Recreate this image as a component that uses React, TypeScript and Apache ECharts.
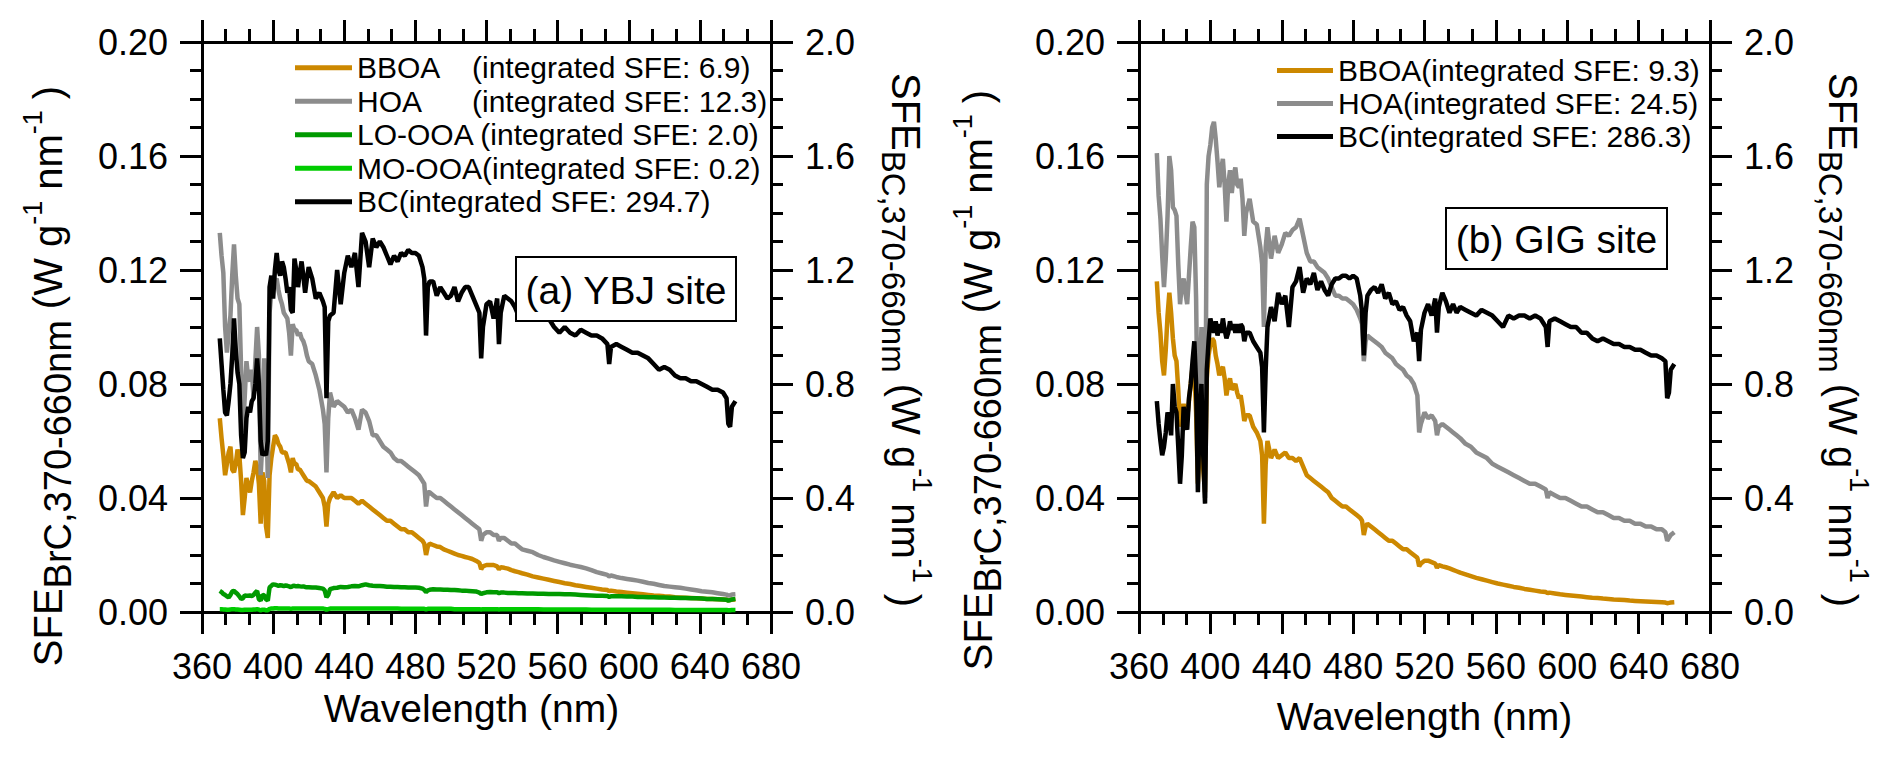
import React, { useEffect, useRef } from "react";
import * as echarts from "echarts";

// ---------- data ----------
const wavelength = [
  370, 371, 372, 373, 374, 375, 376, 377, 378, 379, 380, 381, 382, 383, 384, 385, 386, 387, 388, 389,
  390, 391, 392, 393, 394, 395, 396, 397, 398, 399, 400, 401, 402, 403, 404, 405, 406, 407, 408, 409,
  410, 411, 412, 413, 414, 415, 416, 417, 418, 419, 420,
  422, 424, 426, 428, 429, 430, 431, 432,
  434, 436, 438, 440, 442, 444, 446, 448, 450, 452, 454, 456, 458, 460, 462, 464, 466, 468, 470, 472, 474, 476, 478, 480, 482, 484,
  485, 486, 487, 488,
  490, 492, 494, 496, 498, 500, 502, 504, 506, 508, 510, 512, 514, 516,
  517, 518,
  520, 522, 524, 526,
  527, 528,
  530, 532, 534, 536, 538, 540,
  543, 546, 549, 552, 555, 558, 561, 564, 567, 570, 573, 576, 579, 582, 585, 588,
  589, 590,
  593, 596, 599, 602, 605, 608, 611, 614, 617, 620, 623, 626, 629, 632, 635, 638, 641, 644, 647, 650, 653,
  655, 656, 657, 658, 660,
];

// (a) YBJ site, left axis
const ybjBBOA = [
  0.068, 0.061, 0.055, 0.048, 0.052, 0.056, 0.058, 0.050, 0.049, 0.052,
  0.057, 0.055, 0.046, 0.034, 0.040, 0.047, 0.044, 0.042, 0.046, 0.049,
  0.053, 0.051, 0.045, 0.031, 0.049, 0.046, 0.030, 0.026, 0.048, 0.054,
  0.058, 0.062, 0.061, 0.059, 0.058, 0.056, 0.056, 0.056, 0.054, 0.052,
  0.049, 0.054, 0.052, 0.052, 0.050, 0.050, 0.049, 0.048, 0.047, 0.046, 0.046,
  0.045, 0.044, 0.042, 0.040, 0.037, 0.030, 0.038, 0.040,
  0.042, 0.040, 0.041, 0.040, 0.040, 0.040, 0.039, 0.038, 0.039, 0.038, 0.037, 0.036, 0.035, 0.034, 0.033, 0.032, 0.032, 0.031, 0.030, 0.029, 0.029, 0.028, 0.028, 0.027, 0.026, 0.025,
  0.024, 0.020, 0.023, 0.024,
  0.0235, 0.023, 0.0228, 0.022, 0.0215, 0.021, 0.0205, 0.020, 0.0197, 0.0193, 0.019, 0.0186, 0.018, 0.0172,
  0.015, 0.016,
  0.0165, 0.0165, 0.0165, 0.016,
  0.015, 0.0157,
  0.0155, 0.0152, 0.0147, 0.0143, 0.014, 0.0136,
  0.0131, 0.0125, 0.0121, 0.0117, 0.0113, 0.0109, 0.0105, 0.0101, 0.0098, 0.0094, 0.0091, 0.0088, 0.0085, 0.0082, 0.0079, 0.0077,
  0.0073, 0.0075,
  0.0072, 0.007, 0.0068, 0.0066, 0.0064, 0.0062, 0.006, 0.0058, 0.0057, 0.0055, 0.0054, 0.0052, 0.0051, 0.005, 0.0049, 0.0048, 0.0047, 0.0046, 0.0046, 0.0045, 0.0044,
  0.0043, 0.0041, 0.0042, 0.0043, 0.0044,
];

const ybjHOA = [
  0.133, 0.125, 0.119, 0.100, 0.091, 0.098, 0.104, 0.118, 0.129, 0.118,
  0.110, 0.108, 0.085, 0.063, 0.075, 0.088, 0.082, 0.081, 0.085, 0.075,
  0.088, 0.100, 0.090, 0.048, 0.060, 0.089, 0.075, 0.047, 0.105, 0.112,
  0.114, 0.116, 0.117, 0.113, 0.110, 0.108, 0.105, 0.104, 0.103, 0.098,
  0.090, 0.101, 0.099, 0.099, 0.097, 0.098, 0.096, 0.095, 0.093, 0.090, 0.088,
  0.087, 0.083, 0.078, 0.071, 0.066, 0.049, 0.068, 0.077,
  0.072, 0.074, 0.073, 0.072, 0.070, 0.071, 0.068, 0.064, 0.071, 0.070, 0.067, 0.062, 0.062, 0.060, 0.058, 0.057, 0.056, 0.054, 0.053, 0.053, 0.052, 0.051, 0.050, 0.049, 0.048, 0.046,
  0.045, 0.037, 0.042, 0.042,
  0.041, 0.040, 0.040, 0.039, 0.038, 0.037, 0.036, 0.035, 0.034, 0.033, 0.032, 0.031, 0.030, 0.029,
  0.025, 0.027,
  0.028, 0.028, 0.027, 0.027,
  0.025, 0.026,
  0.026, 0.025, 0.024, 0.024, 0.023, 0.022,
  0.0215, 0.021, 0.020, 0.0193, 0.0187, 0.0181, 0.0176, 0.0171, 0.0166, 0.0162, 0.0158, 0.0153, 0.0147, 0.014, 0.0135, 0.013,
  0.0125, 0.0128,
  0.0123, 0.0119, 0.0116, 0.0113, 0.011, 0.0106, 0.0102, 0.0099, 0.0095, 0.0091, 0.0089, 0.0087, 0.0085, 0.0082, 0.0079, 0.0076, 0.0073, 0.0071, 0.0069, 0.0066, 0.0063,
  0.0061, 0.0058, 0.0059, 0.0061, 0.0062,
];

const ybjLOOOA = [
  0.0074, 0.0070, 0.0063, 0.0060, 0.0055, 0.0051, 0.0060, 0.0072, 0.0074, 0.0068,
  0.0063, 0.0055, 0.0046, 0.0048, 0.0058, 0.0057, 0.0057, 0.0058, 0.0056, 0.0060,
  0.0068, 0.0074, 0.0045, 0.0040, 0.0060, 0.0058, 0.0045, 0.0040, 0.0086, 0.0092,
  0.0097, 0.0096, 0.0094, 0.0092, 0.0094, 0.0093, 0.0091, 0.0093, 0.0092, 0.0090,
  0.0087, 0.0091, 0.0092, 0.0090, 0.0091, 0.0090, 0.0089, 0.0090, 0.0088, 0.0087, 0.0087,
  0.0086, 0.0086, 0.0084, 0.0082, 0.0076, 0.0052, 0.0060, 0.0080,
  0.0084, 0.0085, 0.0088, 0.0087, 0.0088, 0.0090, 0.0091, 0.0090, 0.0094, 0.0097, 0.0094, 0.0092, 0.0091, 0.0091, 0.0090, 0.0089, 0.0089, 0.0088, 0.0088, 0.0087, 0.0087, 0.0086, 0.0086, 0.0086, 0.0085, 0.0082,
  0.0078, 0.0070, 0.0076, 0.0078,
  0.0080, 0.0079, 0.0079, 0.0078, 0.0078, 0.0077, 0.0077, 0.0076, 0.0075, 0.0075, 0.0074, 0.0073, 0.0072, 0.0068,
  0.0063, 0.0066,
  0.0069, 0.0070, 0.0069, 0.0069,
  0.0066, 0.0068,
  0.0068, 0.0067, 0.0067, 0.0067, 0.0066, 0.0066,
  0.0065, 0.0065, 0.0064, 0.0064, 0.0063, 0.0063, 0.0063, 0.0062, 0.0062, 0.0061, 0.0060, 0.0059, 0.0058, 0.0057, 0.0057, 0.0056,
  0.0053, 0.0055,
  0.0055, 0.0055, 0.0054, 0.0054, 0.0053, 0.0053, 0.0052, 0.0052, 0.0051, 0.0051, 0.0050, 0.0050, 0.0049, 0.0049, 0.0048, 0.0048, 0.0047, 0.0046, 0.0046, 0.0045, 0.0044,
  0.0043, 0.0040, 0.0042, 0.0044, 0.0046,
];

const ybjMOOOA = [
  0.0010, 0.0010, 0.0009, 0.0009, 0.0008, 0.0008, 0.0009, 0.0010, 0.0010, 0.0009,
  0.0009, 0.0008, 0.0007, 0.0007, 0.0008, 0.0008, 0.0008, 0.0008, 0.0008, 0.0009,
  0.0009, 0.0010, 0.0008, 0.0006, 0.0008, 0.0008, 0.0006, 0.0006, 0.0011, 0.0012,
  0.0012, 0.0013, 0.0013, 0.0012, 0.0012, 0.0012, 0.0012, 0.0012, 0.0012, 0.0012,
  0.0011, 0.0012, 0.0012, 0.0012, 0.0012, 0.0012, 0.0012, 0.0012, 0.0012, 0.0012, 0.0012,
  0.0012, 0.0012, 0.0012, 0.0012, 0.0011, 0.0008, 0.0010, 0.0012,
  0.0012, 0.0012, 0.0012, 0.0012, 0.0012, 0.0012, 0.0012, 0.0012, 0.0012, 0.0012, 0.0012, 0.0012, 0.0012, 0.0012, 0.0012, 0.0012, 0.0012, 0.0012, 0.0012, 0.0011, 0.0011, 0.0011, 0.0011, 0.0011, 0.0011, 0.0011,
  0.0011, 0.0009, 0.0011, 0.0011,
  0.0011, 0.0011, 0.0011, 0.0011, 0.0011, 0.0011, 0.0010, 0.0010, 0.0010, 0.0010, 0.0010, 0.0010, 0.0010, 0.0010,
  0.0009, 0.0010,
  0.0010, 0.0010, 0.0010, 0.0010,
  0.0009, 0.0010,
  0.0010, 0.0010, 0.0010, 0.0010, 0.0010, 0.0010,
  0.0010, 0.0010, 0.0010, 0.0009, 0.0009, 0.0009, 0.0009, 0.0009, 0.0009, 0.0009, 0.0009, 0.0009, 0.0008, 0.0008, 0.0008, 0.0008,
  0.0008, 0.0008,
  0.0008, 0.0008, 0.0008, 0.0008, 0.0008, 0.0008, 0.0008, 0.0008, 0.0008, 0.0008, 0.0008, 0.0007, 0.0007, 0.0007, 0.0007, 0.0007, 0.0007, 0.0007, 0.0007, 0.0007, 0.0007,
  0.0007, 0.0006, 0.0006, 0.0007, 0.0007,
];

// (a) YBJ site, right axis
const ybjBC = [
  0.96, 0.87, 0.78, 0.70, 0.69, 0.74, 0.80, 0.90, 1.03, 0.92,
  0.84, 0.80, 0.62, 0.54, 0.56, 0.68, 0.72, 0.70, 0.74, 0.75,
  0.80, 0.89, 0.80, 0.60, 0.55, 0.56, 0.55, 0.60, 1.14, 1.18,
  1.10, 1.20, 1.26, 1.20, 1.18, 1.23, 1.21, 1.17, 1.12, 1.14,
  1.06, 1.05, 1.24, 1.20, 1.14, 1.19, 1.23, 1.18, 1.12, 1.17, 1.21,
  1.17, 1.10, 1.12, 1.09, 1.07, 0.75, 1.02, 1.04,
  1.05, 1.20, 1.08, 1.19, 1.25, 1.21, 1.26, 1.14, 1.33, 1.30, 1.21, 1.31, 1.28, 1.30, 1.28, 1.25, 1.22, 1.25, 1.23, 1.26, 1.25, 1.27, 1.26, 1.26, 1.25, 1.21,
  1.17, 0.97, 1.14, 1.16,
  1.16, 1.11, 1.14, 1.12, 1.10, 1.11, 1.14, 1.09, 1.12, 1.14, 1.14, 1.11, 1.08, 1.05,
  0.89, 1.00,
  1.08, 1.09, 1.03, 1.10,
  0.94, 1.05,
  1.11, 1.10, 1.09, 1.07, 1.04, 1.04,
  1.03, 1.04, 1.03, 1.03, 1.03, 1.00, 0.98, 1.00, 0.98, 0.97, 0.99, 0.98, 0.97, 0.97, 0.96, 0.94,
  0.87, 0.93,
  0.94, 0.93, 0.92, 0.91, 0.91, 0.90, 0.89, 0.87, 0.85, 0.86, 0.85, 0.83, 0.82, 0.82, 0.81, 0.81, 0.80, 0.79, 0.78, 0.78, 0.77,
  0.75, 0.66, 0.65, 0.72, 0.74,
];

// (b) GIG site, left axis
const gigBBOA = [
  0.116, 0.105, 0.098, 0.088, 0.083, 0.092, 0.104, 0.112, 0.105, 0.096,
  0.090, 0.088, 0.078, 0.065, 0.070, 0.073, 0.070, 0.068, 0.074, 0.080,
  0.086, 0.085, 0.070, 0.045, 0.058, 0.066, 0.050, 0.042, 0.082, 0.090,
  0.094, 0.096, 0.095, 0.090, 0.087, 0.083, 0.085, 0.086, 0.082, 0.076,
  0.080, 0.082, 0.078, 0.079, 0.080, 0.077, 0.075, 0.076, 0.072, 0.067, 0.069,
  0.069, 0.065, 0.063, 0.060, 0.055, 0.031, 0.052, 0.060,
  0.054, 0.057, 0.054, 0.055, 0.056, 0.054, 0.054, 0.053, 0.054, 0.051, 0.048, 0.047, 0.046, 0.045, 0.044, 0.043, 0.042, 0.040, 0.039, 0.038, 0.037, 0.037, 0.036, 0.035, 0.034, 0.033,
  0.032, 0.027, 0.030, 0.031,
  0.030, 0.029, 0.028, 0.027, 0.026, 0.025, 0.025, 0.024, 0.023, 0.022, 0.022, 0.021, 0.020, 0.019,
  0.016, 0.017,
  0.018, 0.018, 0.0175, 0.017,
  0.0155, 0.0165,
  0.016, 0.0157, 0.0153, 0.0148, 0.0143, 0.0138,
  0.0132, 0.0126, 0.012, 0.0115, 0.011, 0.0105, 0.01, 0.0096, 0.0092, 0.0088, 0.0085, 0.0081, 0.0078, 0.0075, 0.0072, 0.007,
  0.0066, 0.0068,
  0.0065, 0.0062, 0.006, 0.0058, 0.0056, 0.0054, 0.0052, 0.005, 0.0049, 0.0047, 0.0046, 0.0044, 0.0043, 0.0042, 0.004, 0.0039, 0.0038, 0.0037, 0.0036, 0.0035, 0.0034,
  0.0033, 0.0031, 0.0032, 0.0033, 0.0034,
];

const gigHOA = [
  0.161, 0.146, 0.138, 0.125, 0.114, 0.124, 0.139, 0.160, 0.155, 0.142,
  0.141, 0.139, 0.122, 0.108, 0.115, 0.117, 0.112, 0.108, 0.118, 0.128,
  0.137, 0.135, 0.110, 0.060, 0.080, 0.100, 0.070, 0.040, 0.150, 0.160,
  0.164, 0.170, 0.172, 0.166, 0.158, 0.149, 0.155, 0.159, 0.150, 0.137,
  0.150, 0.155, 0.147, 0.153, 0.156, 0.150, 0.149, 0.152, 0.145, 0.132, 0.140,
  0.145, 0.137, 0.136, 0.128, 0.122, 0.100, 0.128, 0.135,
  0.124, 0.132, 0.126, 0.129, 0.133, 0.132, 0.134, 0.135, 0.138, 0.132, 0.126, 0.123, 0.123, 0.121, 0.120, 0.119, 0.117, 0.114, 0.111, 0.111, 0.110, 0.110, 0.109, 0.108, 0.106, 0.103,
  0.101, 0.088, 0.095, 0.097,
  0.096, 0.095, 0.094, 0.093, 0.091, 0.090, 0.089, 0.087, 0.086, 0.085, 0.083, 0.082, 0.080, 0.076,
  0.063, 0.066,
  0.070, 0.068, 0.069, 0.067,
  0.062, 0.065,
  0.066, 0.065, 0.064, 0.063, 0.062, 0.061,
  0.059, 0.058, 0.056, 0.055, 0.054, 0.052, 0.051, 0.050, 0.049, 0.048, 0.047, 0.046, 0.045, 0.045, 0.044, 0.043,
  0.040, 0.042,
  0.041, 0.040, 0.040, 0.039, 0.038, 0.037, 0.037, 0.036, 0.035, 0.035, 0.034, 0.033, 0.033, 0.032, 0.032, 0.031, 0.031, 0.030, 0.030, 0.029, 0.029,
  0.028, 0.025, 0.026, 0.027, 0.028,
];

// (b) GIG site, right axis
const gigBC = [
  0.74, 0.66, 0.60, 0.55, 0.58, 0.63, 0.70, 0.68, 0.62, 0.80,
  0.72, 0.70, 0.58, 0.45, 0.55, 0.72, 0.66, 0.64, 0.75, 0.80,
  0.88, 0.95, 0.80, 0.42, 0.70, 0.80, 0.55, 0.38, 0.85, 0.95,
  1.03, 1.00, 0.98, 1.02, 0.97, 1.01, 0.98, 1.03, 0.99, 0.96,
  0.98, 1.02, 0.99, 1.01, 0.98, 1.01, 0.98, 1.01, 1.00, 0.95, 0.98,
  0.98, 0.95, 0.93, 0.91, 0.86, 0.63, 0.85, 1.00,
  1.07, 1.02, 1.12, 1.08, 1.11, 1.00, 1.14, 1.16, 1.21, 1.12, 1.17, 1.15, 1.19, 1.13, 1.16, 1.13, 1.11, 1.15, 1.17, 1.17, 1.18, 1.18, 1.17, 1.18, 1.17, 1.11,
  1.05, 0.90, 1.05, 1.11,
  1.13, 1.14, 1.12, 1.15, 1.10, 1.12, 1.08, 1.09, 1.06, 1.07, 1.04, 1.02, 0.95, 0.98,
  0.88, 0.99,
  1.05, 1.08, 1.04, 1.10,
  0.98, 1.07,
  1.12, 1.09, 1.05, 1.08, 1.05, 1.07,
  1.06, 1.05, 1.04, 1.06, 1.05, 1.04, 1.02, 1.00, 1.04, 1.03, 1.04, 1.04, 1.03, 1.04, 1.03, 1.00,
  0.93, 1.02,
  1.03, 1.02, 1.01, 1.00, 1.00, 0.98, 0.98, 0.96, 0.95, 0.96, 0.95, 0.94, 0.94, 0.93, 0.93, 0.92, 0.92, 0.91, 0.90, 0.90, 0.89,
  0.88, 0.75, 0.77, 0.85, 0.87,
];

const leftTicks = [0, 0.2, 0.04];
const rightTicks = [0, 2.0, 0.4];
const xTicks = [360, 680, 40];

const legendA: Record<string, string> = {
  "YBJ BBOA": "{w|BBOA}(integrated SFE: 6.9)",
  "YBJ HOA": "{w|HOA}(integrated SFE: 12.3)",
  "YBJ LO-OOA": "LO-OOA (integrated SFE: 2.0)",
  "YBJ MO-OOA": "MO-OOA(integrated SFE: 0.2)",
  "YBJ BC": "BC(integrated SFE: 294.7)",
};
const legendB: Record<string, string> = {
  "GIG BBOA": "BBOA(integrated SFE: 9.3)",
  "GIG HOA": "HOA(integrated SFE: 24.5)",
  "GIG BC": "BC(integrated SFE: 286.3)",
};

// ---------- styling ----------
const FONT = "'Liberation Sans', Arial, Helvetica, sans-serif";
const BLACK = "#000000";
const C_BBOA = "#CC8800";
const C_HOA = "#8C8C8C";
const C_LO = "#009A00";
const C_MO = "#00CC00";
const C_BC = "#000000";

const axisLine = { show: true, onZero: false, lineStyle: { color: BLACK, width: 3 } };
const majorTick = { show: true, inside: false, length: 22, lineStyle: { color: BLACK, width: 3 } };

function xAxisPair(gridIndex: number, nameGap: number, namePadRight: number) {
  const base = {
    gridIndex,
    type: "value" as const,
    min: xTicks[0],
    max: xTicks[1],
    interval: xTicks[2],
    axisLine,
    axisTick: majorTick,
    minorTick: { show: true, splitNumber: 3, length: 13, lineStyle: { color: BLACK, width: 3 } },
    splitLine: { show: false },
    minorSplitLine: { show: false },
  };
  return [
    {
      ...base,
      position: "bottom",
      axisLabel: { show: true, fontSize: 36, color: BLACK, fontFamily: FONT, margin: 36 },
      name: "Wavelength (nm)",
      nameLocation: "middle",
      nameGap,
      nameTextStyle: {
        fontSize: 39,
        color: BLACK,
        fontFamily: FONT,
        verticalAlign: "middle",
        padding: [0, namePadRight, 0, 0],
      },
    },
    { ...base, position: "top", axisLabel: { show: false } },
  ];
}

function yAxisPair(gridIndex: number) {
  const common = {
    gridIndex,
    type: "value" as const,
    axisLine,
    axisTick: majorTick,
    minorTick: { show: true, splitNumber: 4, length: 12, lineStyle: { color: BLACK, width: 3 } },
    splitLine: { show: false },
    minorSplitLine: { show: false },
  };
  return [
    {
      ...common,
      position: "left",
      min: leftTicks[0],
      max: leftTicks[1],
      interval: leftTicks[2],
      axisLabel: {
        fontSize: 36,
        color: BLACK,
        fontFamily: FONT,
        margin: 34,
        formatter: (v: number) => v.toFixed(2),
      },
    },
    {
      ...common,
      position: "right",
      min: rightTicks[0],
      max: rightTicks[1],
      interval: rightTicks[2],
      axisLabel: {
        fontSize: 36,
        color: BLACK,
        fontFamily: FONT,
        margin: 34,
        formatter: (v: number) => v.toFixed(1),
      },
    },
  ];
}

function lineSeries(name: string, values: number[], color: string, xi: number, yi: number, z: number) {
  return {
    type: "line",
    name,
    data: wavelength.map((w, i) => [w, values[i]]),
    xAxisIndex: xi,
    yAxisIndex: yi,
    showSymbol: false,
    symbol: "none",
    lineStyle: { width: 4.5, color },
    itemStyle: { color },
    emphasis: { disabled: true },
    z,
  };
}

const TITLE_M = 40;
const TITLE_P = 27;
function titleRich(subSize: number) {
  return {
    m: { fontSize: TITLE_M, fontFamily: FONT, lineHeight: 58, fill: BLACK },
    ml: { fontSize: TITLE_M, fontFamily: FONT, lineHeight: 58, fill: BLACK, padding: [0, 0, 0, 11] },
    s: { fontSize: subSize, fontFamily: FONT, verticalAlign: "bottom", fill: BLACK },
    p: { fontSize: TITLE_P, fontFamily: FONT, verticalAlign: "top", fill: BLACK },
  };
}
function axisTitle(x: number, y: number, rotation: number, sub: string, subSize: number) {
  return {
    type: "text",
    x,
    y,
    rotation,
    silent: true,
    style: {
      text: `{m|SFE}{s|${sub}}{ml|(W g}{p|-1}{ml|nm}{p|-1}{ml|)}`,
      rich: titleRich(subSize),
      fontSize: TITLE_M,
      fontFamily: FONT,
      fill: BLACK,
      align: "center",
      verticalAlign: "middle",
    },
  };
}
function panelLabel(x: number, y: number, w: number, h: number, text: string) {
  return [
    {
      type: "rect",
      shape: { x, y, width: w, height: h },
      style: { fill: "#ffffff", stroke: BLACK, lineWidth: 2 },
      z: 20,
      silent: true,
    },
    {
      type: "text",
      x: x + w / 2,
      y: y + h / 2 + 1,
      z: 21,
      silent: true,
      style: {
        text,
        fontSize: 39,
        fontFamily: FONT,
        fill: BLACK,
        align: "center",
        verticalAlign: "middle",
      },
    },
  ];
}

function buildOption() {
  return {
    animation: false,
    backgroundColor: "#ffffff",
    grid: [
      { left: 202, top: 42, width: 569, height: 570 },
      { left: 1139, top: 42, width: 571, height: 570 },
    ],
    xAxis: [...xAxisPair(0, 90, 30), ...xAxisPair(1, 104, 0)],
    yAxis: [...yAxisPair(0), ...yAxisPair(1)],
    legend: [
      {
        left: 290,
        top: 46,
        orient: "vertical",
        icon: "rect",
        itemWidth: 57,
        itemHeight: 5,
        itemGap: 0,
        selectedMode: false,
        data: Object.keys(legendA),
        formatter: (n: string) => legendA[n],
        textStyle: {
          fontSize: 30,
          lineHeight: 33.5,
          color: BLACK,
          fontFamily: FONT,
          rich: { w: { width: 115, fontSize: 30, lineHeight: 33.5, fontFamily: FONT, color: BLACK } },
        },
      },
      {
        left: 1272,
        top: 49,
        orient: "vertical",
        icon: "rect",
        itemWidth: 56,
        itemHeight: 5,
        itemGap: 0,
        selectedMode: false,
        data: Object.keys(legendB),
        formatter: (n: string) => legendB[n],
        textStyle: { fontSize: 30, lineHeight: 33, color: BLACK, fontFamily: FONT },
      },
    ],
    series: [
      lineSeries("YBJ BBOA", ybjBBOA, C_BBOA, 0, 0, 2),
      lineSeries("YBJ HOA", ybjHOA, C_HOA, 0, 0, 3),
      lineSeries("YBJ LO-OOA", ybjLOOOA, C_LO, 0, 0, 4),
      lineSeries("YBJ MO-OOA", ybjMOOOA, C_MO, 0, 0, 5),
      lineSeries("YBJ BC", ybjBC, C_BC, 0, 1, 6),
      lineSeries("GIG BBOA", gigBBOA, C_BBOA, 2, 2, 2),
      lineSeries("GIG HOA", gigHOA, C_HOA, 2, 2, 3),
      lineSeries("GIG BC", gigBC, C_BC, 2, 3, 6),
    ],
    graphic: [
      axisTitle(48, 376, Math.PI / 2, "BrC,370-660nm", 38),
      axisTitle(906, 340, -Math.PI / 2, "BC,370-660nm", 33),
      axisTitle(978, 380, Math.PI / 2, "BrC,370-660nm", 38),
      axisTitle(1843, 340, -Math.PI / 2, "BC,370-660nm", 33),
      ...panelLabel(516, 257, 220, 64, "(a) YBJ site"),
      ...panelLabel(1446, 208, 221, 61, "(b) GIG site"),
    ],
  };
}

export default function App() {
  const ref = useRef<HTMLDivElement>(null);
  useEffect(() => {
    document.body.style.margin = "0";
    if (!ref.current) return;
    const chart = echarts.init(ref.current, null, { renderer: "svg" });
    chart.setOption(buildOption() as any);
    return () => {
      chart.dispose();
    };
  }, []);
  return <div ref={ref} style={{ width: 1892, height: 765, background: "#ffffff" }} />;
}
